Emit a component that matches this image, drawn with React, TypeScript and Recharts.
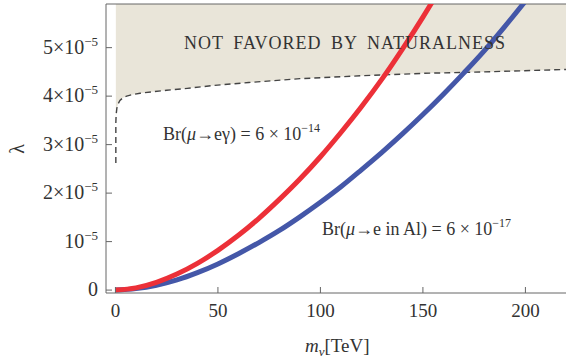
import { ComposedChart, Line, Area, XAxis, YAxis, ReferenceLine } from 'recharts'

// m_nu in TeV, lambda in units of 1e-5
const mValues = [0, 10, 20, 30, 40, 50, 60, 70, 80, 90, 100, 110, 120, 130, 140, 150, 160, 170, 180, 190, 200, 210]
const megValues = [0, 0.045, 0.16, 0.33, 0.55, 0.82, 1.13, 1.48, 1.87, 2.29, 2.75, 3.25, 3.78, 4.35, 4.97, 5.63, 6.33, 7.06, 7.82, 8.6, 9.4, 10.2]
const alValues = [0, 0.03, 0.1, 0.21, 0.36, 0.54, 0.75, 0.98, 1.23, 1.51, 1.81, 2.13, 2.48, 2.84, 3.22, 3.62, 4.04, 4.48, 4.94, 5.44, 5.96, 6.5]

// naturalness boundary (dashed)
const natM = [0.2, 0.2, 0.35, 0.7, 1.3, 2.2, 3.5, 5.5, 8, 12, 18, 25, 35, 48, 65, 90, 120, 150, 180, 220]
const natL = [2.62, 3.45, 3.62, 3.75, 3.84, 3.91, 3.96, 4.0, 4.03, 4.06, 4.09, 4.12, 4.16, 4.22, 4.28, 4.36, 4.42, 4.47, 4.5, 4.55]

const xTicks = [0, 50, 100, 150, 200]
const yTicks = [0, 1, 2, 3, 4, 5]
const yTickLabels = ['0', '10', '2×10', '3×10', '4×10', '5×10']

const curves = mValues.map((m, i) => ({ m, meg: megValues[i], al: alValues[i] }))
const boundary = natM.map((m, i) => ({ m, lam: natL[i], band: [natL[i], 6.5] }))

const FONT = '"Liberation Serif", "DejaVu Serif", serif'
const AXIS = '#666'
const TEXT = '#333'

const YTick = (props: any) => {
  const { x, y, payload, index } = props
  return (
    <g>
      <line x1={x} x2={x + 6} y1={y} y2={y} stroke={AXIS} strokeWidth={1} />
      <text x={x - 8} y={y + 6} textAnchor="end" fontFamily={FONT} fontSize={20} fill={TEXT}>
        <tspan>{yTickLabels[index] ?? payload.value}</tspan>
        {payload.value !== 0 && (
          <tspan dy={-8} fontSize={13}>−5</tspan>
        )}
      </text>
    </g>
  )
}

const XTick = (props: any) => {
  const { x, y, payload } = props
  return (
    <g>
      <line x1={x} x2={x} y1={y - 6} y2={y} stroke={AXIS} strokeWidth={1} />
      <text x={x} y={y + 24} textAnchor="middle" fontFamily={FONT} fontSize={19} fill={TEXT}>
        {payload.value}
      </text>
    </g>
  )
}

export default function App() {
  return (
    <div style={{ position: 'absolute', left: 0, top: 0, width: 566, height: 363, background: '#fff' }}>
      <ComposedChart width={566} height={363} margin={{ top: 4, right: 0, bottom: 0, left: 0 }}>
        <XAxis
          type="number"
          dataKey="m"
          domain={[-4.6, 219.8]}
          allowDataOverflow
          ticks={xTicks}
          tick={<XTick />}
          tickLine={false}
          tickSize={0}
          tickMargin={0}
          height={70}
          stroke={AXIS}
        />
        <YAxis
          type="number"
          domain={[-0.06, 5.9]}
          allowDataOverflow
          ticks={yTicks}
          tick={<YTick />}
          tickLine={false}
          tickSize={0}
          tickMargin={0}
          width={106}
          stroke={AXIS}
        />
        <ReferenceLine y={5.9} stroke={AXIS} strokeWidth={1} />
        <Area
          data={boundary}
          dataKey="band"
          type="linear"
          fill="#e9e5d9"
          fillOpacity={1}
          stroke="none"
          isAnimationActive={false}
        />
        <Line
          data={boundary}
          dataKey="lam"
          type="linear"
          stroke="#444"
          strokeWidth={1.4}
          strokeDasharray="6 4"
          dot={false}
          isAnimationActive={false}
        />
        <Line
          data={curves}
          dataKey="al"
          type="monotone"
          stroke="#4457a8"
          strokeWidth={5}
          dot={false}
          isAnimationActive={false}
        />
        <Line
          data={curves}
          dataKey="meg"
          type="monotone"
          stroke="#ec3038"
          strokeWidth={5}
          dot={false}
          isAnimationActive={false}
        />
      </ComposedChart>
      <svg
        width={566}
        height={363}
        style={{ position: 'absolute', left: 0, top: 0, pointerEvents: 'none' }}
        fontFamily={FONT}
        fill={TEXT}
      >
        <text x={345} y={49} textAnchor="middle" fontSize={18} letterSpacing={1} wordSpacing={4}>
          NOT FAVORED BY NATURALNESS
        </text>
        <text x={163} y={140} fontSize={18}>
          <tspan>Br(</tspan>
          <tspan fontStyle="italic">μ</tspan>
          <tspan>→eγ) = 6 × 10</tspan>
          <tspan dy={-8} fontSize={12}>−14</tspan>
        </text>
        <text x={322} y={235} fontSize={18}>
          <tspan>Br(</tspan>
          <tspan fontStyle="italic">μ</tspan>
          <tspan>→e in Al) = 6 × 10</tspan>
          <tspan dy={-8} fontSize={12}>−17</tspan>
        </text>
        <g transform="translate(24 149) rotate(-90)">
          <text x={0} y={0} fontSize={20} textAnchor="middle">
            λ
          </text>
        </g>
        <text x={305} y={352} fontSize={19}>
          <tspan fontStyle="italic">m</tspan>
          <tspan dy={4} fontSize={13} fontStyle="italic">ν</tspan>
          <tspan dy={-4}>[TeV]</tspan>
        </text>
      </svg>
    </div>
  )
}
